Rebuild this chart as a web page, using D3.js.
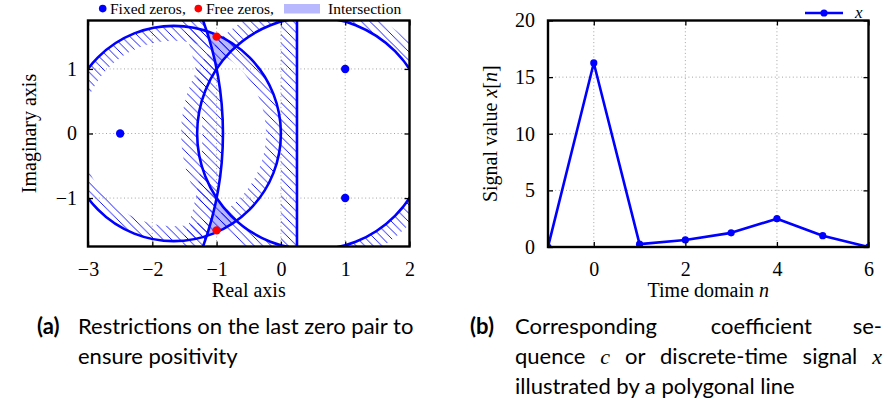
<!DOCTYPE html>
<html><head><meta charset="utf-8">
<script src="https://cdn.jsdelivr.net/npm/d3@7"></script>
<style>body{margin:0;background:#fff}svg{display:block}</style>
</head><body>
<svg id="c" width="888" height="412"></svg>
<script>
// ---------- data ----------
const fixedZeros = [[-2.5, 0], [1, 1], [1, -1]];
const freeZeros = [[-1, 1.5], [-1, -1.5]];
// boundary circles of the positivity constraints (centre on real axis, radius)
const circleCentres = [-5 / 3, 0.5, -6];
const circleRadii = [5 / 3, Math.sqrt(3.25), Math.sqrt(26)];
const circleHatchSide = ["in", "out", "in"];
const boundaryLineRe = [0.25];
const xTicksA = [-3, -2, -1, 0, 1, 2];
const yTicksA = [-1, 0, 1];
const timeN = [-1, 0, 1, 2, 3, 4, 5, 6];
const signalX = [0, 16.25, 0.25, 0.625, 1.25, 2.5, 1, 0];
const xTicksB = [0, 2, 4, 6];
const yTicksB = [0, 5, 10, 15, 20];
const legendA = ["Fixed zeros,", "Free zeros,", "Intersection"];
const legendB = ["x"];

// ---------- setup ----------
const svg = d3.select("#c");
const defs = svg.append("defs");
const BLUE = "#0000ff", RED = "#ff0000", FILL = "#b8b8ff";
const SERIF = "'Liberation Serif', 'DejaVu Serif', serif";
const SANS = "Lato, 'Noto Sans', sans-serif";
const fmt = d3.format("d");

defs.append("pattern").attr("id", "hatch").attr("patternUnits", "userSpaceOnUse")
  .attr("width", 8.5).attr("height", 8.5)
  .append("path").attr("d", "M-2,-2L10.5,10.5M-2,6.5L2,10.5M6.5,-2L10.5,2")
  .attr("stroke", BLUE).attr("stroke-width", 0.9).attr("fill", "none");

// ---------- plot A ----------
const xA = d3.scaleLinear().domain([-3, 2]).range([88, 409.5]);
const yA = d3.scaleLinear().domain([-1.75, 1.75]).range([246.5, 20.5]);
const [ax0, ax1] = xA.range(), [ay1, ay0] = yA.range();

defs.append("clipPath").attr("id", "clipA").append("rect")
  .attr("x", ax0).attr("y", ay0).attr("width", ax1 - ax0).attr("height", ay1 - ay0);

function ell(cx, r, sx, sy) {
  const x0 = sx(cx), y0 = sy(0), rx = sx(cx + r) - sx(cx), ry = sy(0) - sy(r);
  return `M${x0 + rx},${y0}A${rx},${ry} 0 1 0 ${x0 - rx},${y0}A${rx},${ry} 0 1 0 ${x0 + rx},${y0}Z`;
}
const big = `M-2000,-2000H3000V3000H-2000Z`;

defs.append("clipPath").attr("id", "inA").append("path").attr("d", ell(circleCentres[0], circleRadii[0], xA, yA));
defs.append("clipPath").attr("id", "outB").append("path").attr("clip-rule", "evenodd")
  .attr("d", big + ell(circleCentres[1], circleRadii[1], xA, yA));
defs.append("clipPath").attr("id", "outC").append("path").attr("clip-rule", "evenodd")
  .attr("d", big + ell(circleCentres[2], circleRadii[2], xA, yA));

const gA = svg.append("g");
const gridA = gA.append("g").attr("stroke", "#9a9a9a").attr("stroke-width", 0.9).attr("stroke-dasharray", "1,2.6");
gridA.selectAll(".gx").data(xTicksA.slice(1, -1)).join("line")
  .attr("x1", d => xA(d)).attr("x2", d => xA(d)).attr("y1", ay0).attr("y2", ay1);
gridA.selectAll(".gy").data(yTicksA).join("line")
  .attr("y1", d => yA(d)).attr("y2", d => yA(d)).attr("x1", ax0).attr("x2", ax1);

const plotA = gA.append("g").attr("clip-path", "url(#clipA)");
plotA.append("g").attr("clip-path", "url(#inA)")
  .append("g").attr("clip-path", "url(#outB)")
  .append("g").attr("clip-path", "url(#outC)")
  .append("rect").attr("x", ax0).attr("y", ay0)
  .attr("width", xA(boundaryLineRe[0]) - ax0).attr("height", ay1 - ay0).attr("fill", FILL);

const bandW = [0.23, 0.25, 0.32];
circleCentres.forEach((c, i) => {
  const r = circleRadii[i], w = bandW[i];
  const d = circleHatchSide[i] === "in" ? ell(c, r, xA, yA) + ell(c, r - w, xA, yA)
                                         : ell(c, r + w, xA, yA) + ell(c, r, xA, yA);
  plotA.append("path").attr("d", d).attr("fill-rule", "evenodd").attr("fill", "url(#hatch)");
});
plotA.append("rect").attr("x", xA(boundaryLineRe[0] - 0.25)).attr("y", ay0)
  .attr("width", xA(boundaryLineRe[0]) - xA(boundaryLineRe[0] - 0.25)).attr("height", ay1 - ay0)
  .attr("fill", "url(#hatch)");

circleCentres.forEach((c, i) => {
  plotA.append("path").attr("d", ell(c, circleRadii[i], xA, yA))
    .attr("fill", "none").attr("stroke", BLUE).attr("stroke-width", 2.6);
});
plotA.append("line").attr("x1", xA(boundaryLineRe[0])).attr("x2", xA(boundaryLineRe[0]))
  .attr("y1", ay0).attr("y2", ay1).attr("stroke", BLUE).attr("stroke-width", 2.6);

plotA.selectAll(".fz").data(fixedZeros).join("circle")
  .attr("cx", d => xA(d[0])).attr("cy", d => yA(d[1])).attr("r", 4.2).attr("fill", BLUE);
plotA.selectAll(".rz").data(freeZeros).join("circle")
  .attr("cx", d => xA(d[0])).attr("cy", d => yA(d[1])).attr("r", 4.2).attr("fill", RED);

function styleAxis(g, size) {
  g.select(".domain").remove();
  g.selectAll("line").attr("stroke", "#000").attr("stroke-width", 1.3);
  g.selectAll("text").attr("font-family", SERIF).attr("font-size", size).attr("fill", "#000");
}
gA.append("g").attr("transform", `translate(0,${ay1})`)
  .call(d3.axisBottom(xA).tickValues(xTicksA).tickFormat(fmt).tickSize(-5).tickPadding(15)).call(styleAxis, 20);
gA.append("g").attr("transform", `translate(0,${ay0})`)
  .call(d3.axisTop(xA).tickValues(xTicksA).tickSize(-5).tickFormat("")).call(styleAxis, 20);
gA.append("g").attr("transform", `translate(${ax0},0)`)
  .call(d3.axisLeft(yA).tickValues(yTicksA).tickFormat(fmt).tickSize(-5).tickPadding(11)).call(styleAxis, 20);
gA.append("g").attr("transform", `translate(${ax1},0)`)
  .call(d3.axisRight(yA).tickValues(yTicksA).tickSize(-5).tickFormat("")).call(styleAxis, 20);
gA.append("rect").attr("x", ax0).attr("y", ay0).attr("width", ax1 - ax0).attr("height", ay1 - ay0)
  .attr("fill", "none").attr("stroke", "#000").attr("stroke-width", 2.4);

gA.append("text").attr("x", (ax0 + ax1) / 2).attr("y", 297).attr("text-anchor", "middle")
  .attr("font-family", SERIF).attr("font-size", 20).text("Real axis");
gA.append("text").attr("transform", `translate(36,${(ay0 + ay1) / 2}) rotate(-90)`).attr("text-anchor", "middle")
  .attr("font-family", SERIF).attr("font-size", 20).text("Imaginary axis");

const lgA = gA.append("g").attr("font-family", SERIF).attr("font-size", 15.5);
lgA.append("circle").attr("cx", 102.7).attr("cy", 8.6).attr("r", 3.8).attr("fill", BLUE);
lgA.append("text").attr("x", 110).attr("y", 13.5).text(legendA[0]);
lgA.append("circle").attr("cx", 198.3).attr("cy", 8.6).attr("r", 3.8).attr("fill", RED);
lgA.append("text").attr("x", 206).attr("y", 13.5).text(legendA[1]);
lgA.append("rect").attr("x", 284).attr("y", 4).attr("width", 36).attr("height", 9.5).attr("fill", FILL);
lgA.append("text").attr("x", 328).attr("y", 13.5).text(legendA[2]);

// ---------- plot B ----------
const xB = d3.scaleLinear().domain([-1, 6]).range([548, 868.5]);
const yB = d3.scaleLinear().domain([0, 20]).range([247, 20.5]);
const [bx0, bx1] = xB.range(), [by1, by0] = yB.range();
defs.append("clipPath").attr("id", "clipB").append("rect")
  .attr("x", bx0).attr("y", by0).attr("width", bx1 - bx0).attr("height", by1 - by0);

const gB = svg.append("g");
const gridB = gB.append("g").attr("stroke", "#9a9a9a").attr("stroke-width", 0.9).attr("stroke-dasharray", "1,2.6");
gridB.selectAll(".gx").data(xTicksB.slice(0, -1)).join("line")
  .attr("x1", d => xB(d)).attr("x2", d => xB(d)).attr("y1", by0).attr("y2", by1);
gridB.selectAll(".gy").data(yTicksB.slice(1, -1)).join("line")
  .attr("y1", d => yB(d)).attr("y2", d => yB(d)).attr("x1", bx0).attr("x2", bx1);

const plotB = gB.append("g").attr("clip-path", "url(#clipB)");
const pts = timeN.map((n, i) => [n, signalX[i]]);
plotB.append("path").attr("d", d3.line().x(d => xB(d[0])).y(d => yB(d[1]))(pts))
  .attr("fill", "none").attr("stroke", BLUE).attr("stroke-width", 2.6).attr("stroke-linejoin", "round");
plotB.selectAll(".m").data(pts).join("circle")
  .attr("cx", d => xB(d[0])).attr("cy", d => yB(d[1])).attr("r", 3.6).attr("fill", BLUE);

gB.append("g").attr("transform", `translate(0,${by1})`)
  .call(d3.axisBottom(xB).tickValues(xTicksB).tickFormat(fmt).tickSize(-5).tickPadding(15)).call(styleAxis, 20);
gB.append("g").attr("transform", `translate(0,${by0})`)
  .call(d3.axisTop(xB).tickValues(xTicksB).tickSize(-5).tickFormat("")).call(styleAxis, 20);
gB.append("g").attr("transform", `translate(${bx0},0)`)
  .call(d3.axisLeft(yB).tickValues(yTicksB).tickFormat(fmt).tickSize(-5).tickPadding(13)).call(styleAxis, 20);
gB.append("g").attr("transform", `translate(${bx1},0)`)
  .call(d3.axisRight(yB).tickValues(yTicksB).tickSize(-5).tickFormat("")).call(styleAxis, 20);
gB.append("rect").attr("x", bx0).attr("y", by0).attr("width", bx1 - bx0).attr("height", by1 - by0)
  .attr("fill", "none").attr("stroke", "#000").attr("stroke-width", 2.4);

const tB = gB.append("text").attr("x", (bx0 + bx1) / 2).attr("y", 297).attr("text-anchor", "middle")
  .attr("font-family", SERIF).attr("font-size", 20);
tB.append("tspan").text("Time domain ");
tB.append("tspan").attr("font-style", "italic").text("n");
const yLab = gB.append("text").attr("transform", `translate(497,${(by0 + by1) / 2}) rotate(-90)`)
  .attr("text-anchor", "middle").attr("font-family", SERIF).attr("font-size", 20);
yLab.append("tspan").text("Signal value ");
yLab.append("tspan").attr("font-style", "italic").text("x");
yLab.append("tspan").text("[");
yLab.append("tspan").attr("font-style", "italic").text("n");
yLab.append("tspan").text("]");

const lgB = gB.append("g");
lgB.append("line").attr("x1", 805).attr("x2", 843).attr("y1", 13).attr("y2", 13)
  .attr("stroke", BLUE).attr("stroke-width", 2.6);
lgB.append("circle").attr("cx", 824).attr("cy", 13).attr("r", 3.6).attr("fill", BLUE);
lgB.append("text").attr("x", 855).attr("y", 17.5).attr("font-family", SERIF)
  .attr("font-style", "italic").attr("font-size", 17).text(legendB[0]);

// ---------- captions ----------
const cap = svg.append("g").attr("font-family", SANS).attr("font-size", 22).attr("fill", "#000");
function justify(t, x0, x1) {
  const nat = t.node().getComputedTextLength();
  const spaces = (t.text().match(/ /g) || []).length;
  if (spaces > 0 && nat < x1 - x0) t.attr("word-spacing", (x1 - x0 - nat) / spaces);
}
cap.append("text").attr("x", 37).attr("y", 334).attr("font-weight", "bold").text("(a)");
justify(cap.append("text").attr("x", 78).attr("y", 334).text("Restrictions on the last zero pair to"), 78, 412);
cap.append("text").attr("x", 78).attr("y", 364).text("ensure positivity");
cap.append("text").attr("x", 470).attr("y", 334).attr("font-weight", "bold").text("(b)");
cap.append("text").attr("x", 515).attr("y", 334).text("Corresponding");
cap.append("text").attr("x", 812).attr("y", 334).attr("text-anchor", "end").text("coefficient");
cap.append("text").attr("x", 882).attr("y", 334).attr("text-anchor", "end").text("se-");
const l2 = cap.append("text").attr("x", 515).attr("y", 364);
l2.append("tspan").text("quence ");
l2.append("tspan").attr("font-family", SERIF).attr("font-style", "italic").text("c");
l2.append("tspan").text(" or discrete-time signal ");
l2.append("tspan").attr("font-family", SERIF).attr("font-style", "italic").text("x");
justify(l2, 515, 882);
cap.append("text").attr("x", 515).attr("y", 394).text("illustrated by a polygonal line");
</script>
</body></html>
